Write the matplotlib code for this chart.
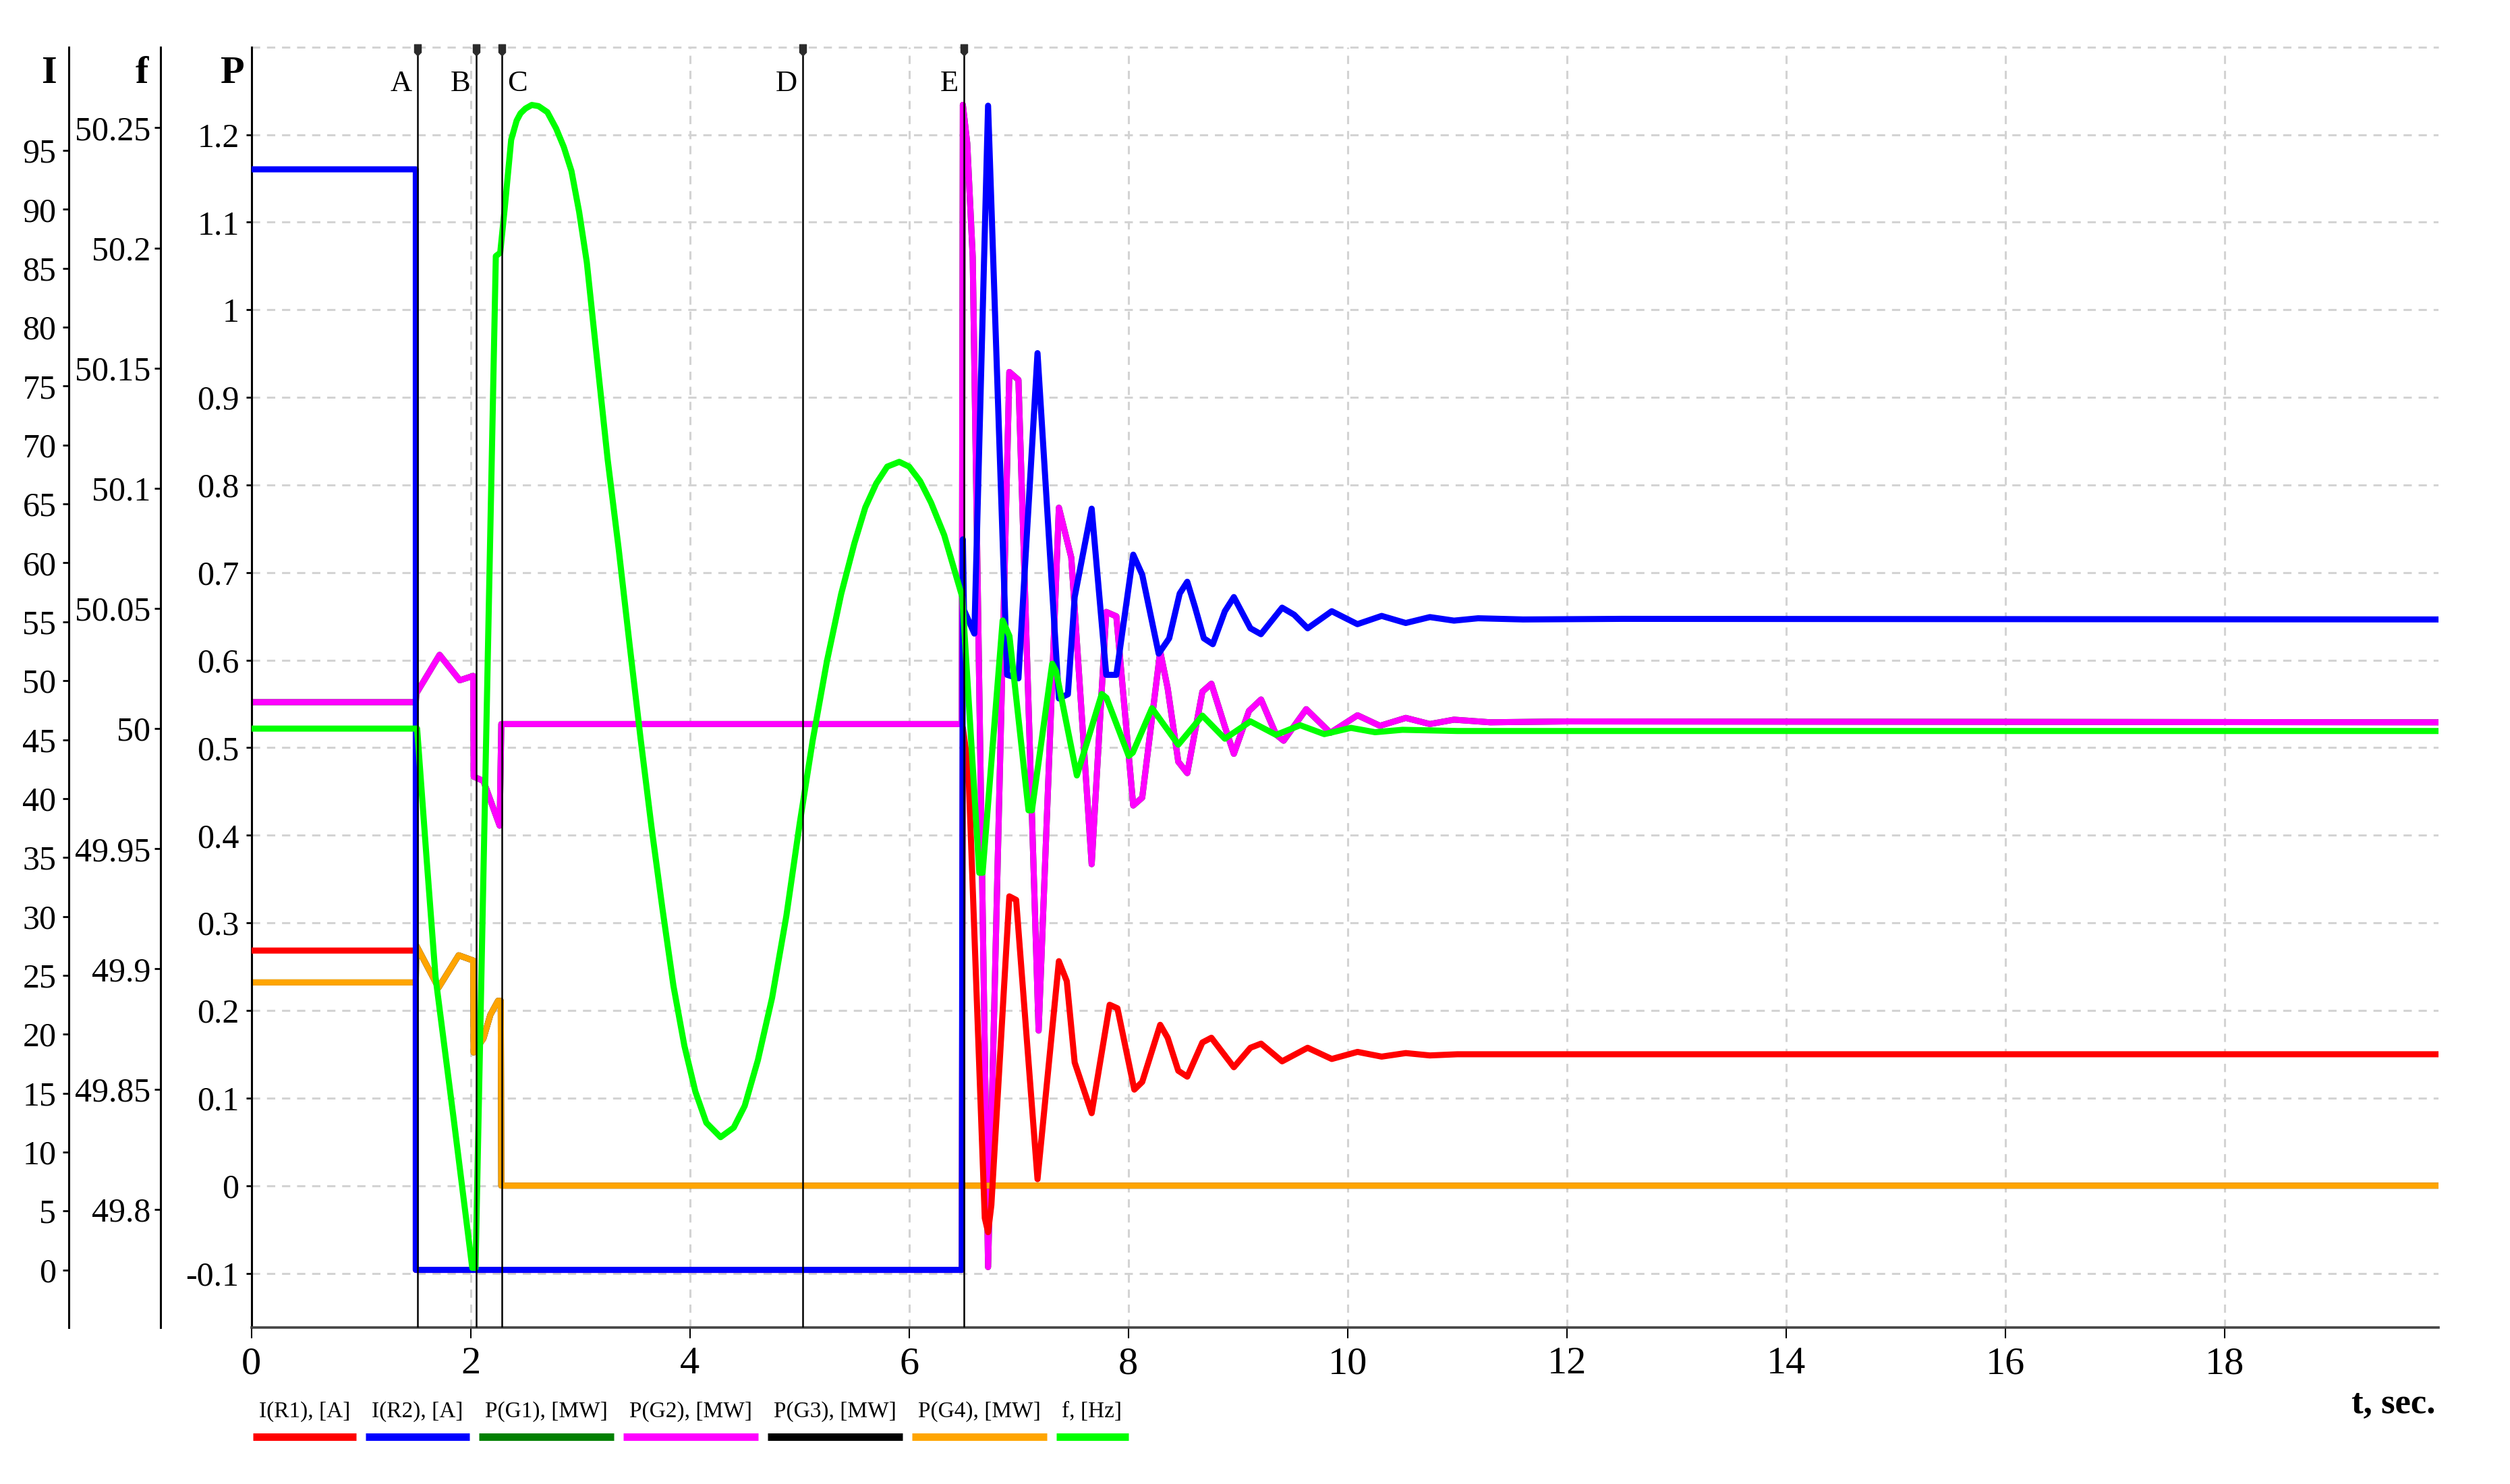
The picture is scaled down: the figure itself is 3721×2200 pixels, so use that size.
import matplotlib
matplotlib.use('Agg')
import matplotlib.pyplot as plt
import matplotlib.transforms as mtransforms
from matplotlib.path import Path
from matplotlib.lines import Line2D
from matplotlib.ticker import FixedLocator, FuncFormatter

plt.rcParams['font.family'] = ['Liberation Serif', 'DejaVu Serif']
plt.rcParams['axes.unicode_minus'] = False

# I(R1), A
t_r1 = [0, 1.5, 1.5, 6.48, 6.49, 6.54, 6.69, 6.72, 6.75, 6.914, 6.976, 7.171, 7.366, 7.438, 7.51,
        7.665, 7.829, 7.9, 8.054, 8.126, 8.29, 8.358, 8.455, 8.537, 8.675, 8.757, 8.88, 8.962,
        9.113, 9.21, 9.402, 9.635, 9.855, 10.09, 10.31, 10.53, 10.75, 11.0, 12.0, 19.95]
i_r1 = [27.1, 27.1, 0, 0, 46, 42.6, 4.4, 3.2, 5.5, 31.7, 31.4, 7.7, 26.2, 24.5, 17.6,
        13.3, 22.5, 22.2, 15.3, 15.95, 20.8, 19.7, 16.9, 16.4, 19.3, 19.7, 18.2, 17.2,
        18.85, 19.2, 17.7, 18.85, 17.9, 18.5, 18.1, 18.4, 18.2, 18.3, 18.3, 18.3]

# I(R2), A
t_r2 = [0, 1.5, 1.5, 6.48, 6.49, 6.50, 6.595, 6.72, 6.894, 6.997, 7.171, 7.366, 7.448, 7.51,
        7.665, 7.798, 7.89, 8.044, 8.126, 8.276, 8.372, 8.468, 8.537, 8.606, 8.688, 8.770,
        8.880, 8.962, 9.113, 9.209, 9.402, 9.512, 9.635, 9.855, 10.089, 10.31, 10.53, 10.75,
        10.97, 11.19, 11.6, 12.5, 19.95]
i_r2 = [93.4, 93.4, 0, 0, 62, 56, 54, 98.8, 50.5, 50.2, 77.8, 48.5, 48.85, 57.1,
        64.6, 50.5, 50.5, 60.7, 59.0, 52.3, 53.6, 57.4, 58.4, 56.3, 53.6, 53.1,
        55.9, 57.1, 54.45, 53.95, 56.2, 55.6, 54.45, 55.9, 54.8, 55.5, 54.9, 55.4,
        55.1, 55.3, 55.2, 55.25, 55.2]

# P(G1) and P(G2), MW (G1 lies under G2)
t_g2 = [0, 1.5, 1.505, 1.717, 1.901, 2.024, 2.028, 2.117, 2.265, 2.28, 6.48, 6.49, 6.53, 6.58,
        6.72, 6.914, 6.997, 7.181, 7.366, 7.479, 7.665, 7.798, 7.89, 8.044, 8.126, 8.29, 8.358,
        8.455, 8.537, 8.675, 8.757, 8.88, 8.962, 9.10, 9.21, 9.347, 9.416, 9.622, 9.842, 10.09,
        10.295, 10.53, 10.75, 10.97, 11.3, 12.0, 19.95]
p_g2 = [0.552, 0.552, 0.562, 0.606, 0.577, 0.582, 0.467, 0.462, 0.411, 0.527, 0.527, 1.234, 1.19, 1.06,
        -0.093, 0.929, 0.920, 0.177, 0.774, 0.717, 0.367, 0.655, 0.650, 0.434, 0.443, 0.610, 0.568,
        0.484, 0.471, 0.564, 0.573, 0.524, 0.493, 0.542, 0.555, 0.515, 0.508, 0.544, 0.517, 0.537,
        0.525, 0.534, 0.527, 0.532, 0.529, 0.530, 0.529]
p_g1 = list(p_g2)

# P(G3) and P(G4), MW (G3 lies under G4)
t_g4 = [0, 1.5, 1.505, 1.707, 1.891, 2.024, 2.028, 2.117, 2.18, 2.25, 2.275, 2.28, 19.95]
p_g4 = [0.232, 0.232, 0.274, 0.226, 0.263, 0.257, 0.152, 0.168, 0.195, 0.211, 0.211, 0.0, 0.0]
p_g3 = list(p_g4)

# f, Hz
t_f = [0, 1.512, 1.6, 1.68, 1.85, 2.015, 2.045, 2.23, 2.27, 2.31, 2.37, 2.42, 2.455, 2.5, 2.558,
       2.62, 2.7, 2.78, 2.85, 2.92, 2.99, 3.06, 3.15, 3.25, 3.35, 3.45, 3.55, 3.65, 3.75, 3.85,
       3.95, 4.05, 4.15, 4.28, 4.4, 4.5, 4.62, 4.75, 4.88, 5.0, 5.12, 5.25, 5.38, 5.5, 5.6, 5.7,
       5.8, 5.91, 6.0, 6.1, 6.2, 6.32, 6.485, 6.64, 6.67, 6.853, 6.915, 7.089, 7.12, 7.305, 7.34,
       7.53, 7.757, 7.80, 8.003, 8.04, 8.215, 8.455, 8.675, 8.88, 9.113, 9.347, 9.567, 9.787,
       10.03, 10.25, 10.5, 11.0, 12.0, 19.95]
f_hz = [50.0, 50.0, 49.945, 49.8966, 49.836, 49.7756, 49.7756, 50.1966, 50.198, 50.216, 50.245,
        50.253, 50.256, 50.258, 50.2595, 50.259, 50.2565, 50.2497, 50.242, 50.232, 50.215, 50.194,
        50.155, 50.112, 50.075, 50.035, 49.996, 49.959, 49.925, 49.893, 49.868, 49.849, 49.836,
        49.830, 49.834, 49.843, 49.862, 49.888, 49.922, 49.960, 49.995, 50.028, 50.056, 50.077,
        50.092, 50.102, 50.109, 50.111, 50.109, 50.103, 50.094, 50.0805, 50.0547, 49.940, 49.940,
        50.045, 50.0385, 49.966, 49.966, 50.027, 50.024, 49.9805, 50.0144, 50.0128, 49.9886,
        49.990, 50.0085, 49.9933, 50.0054, 49.9958, 50.003, 49.9974, 50.0014, 49.9977, 50.0003,
        49.9985, 49.9995, 49.999, 49.999, 49.999]

events = ['A', 'B', 'C', 'D', 'E']
event_t = [1.515, 2.05, 2.285, 5.03, 6.5]

x_ticks = [0, 2, 4, 6, 8, 10, 12, 14, 16, 18]
p_ticks = [-0.1, 0, 0.1, 0.2, 0.3, 0.4, 0.5, 0.6, 0.7, 0.8, 0.9, 1.0, 1.1, 1.2]
i_ticks = [0, 5, 10, 15, 20, 25, 30, 35, 40, 45, 50, 55, 60, 65, 70, 75, 80, 85, 90, 95]
f_ticks = [49.8, 49.85, 49.9, 49.95, 50.0, 50.05, 50.1, 50.15, 50.2, 50.25]

legend_labels = ['I(R1), [A]', 'I(R2), [A]', 'P(G1), [MW]', 'P(G2), [MW]',
                 'P(G3), [MW]', 'P(G4), [MW]', 'f, [Hz]']
colors = ['#ff0000', '#0000ff', '#008000', '#ff00ff', '#000000', '#ffa500', '#00ff00']

W, H = 3721, 2200
fig = plt.figure(figsize=(W / 100, H / 100), dpi=100)
ax = fig.add_axes([0.10014, 0.10545, 0.87137, 0.86287])
ax.set_xlim(0, 19.95)
ax.set_ylim(-0.162, 1.30)

ax_i = ax.twinx()
ax_i.set_ylim(-4.89, 103.78)
ax_f = ax.twinx()
ax_f.set_ylim(49.7508, 50.2836)

fmt = FuncFormatter(lambda v, _: '%g' % round(v, 3))

# main P axis
for s in ('top', 'right'):
    ax.spines[s].set_visible(False)
ax.spines['left'].set_linewidth(2.2)
ax.spines['bottom'].set_linewidth(2.6)
ax.spines['bottom'].set_color('#444444')
ax.xaxis.set_major_locator(FixedLocator(x_ticks))
ax.xaxis.set_major_formatter(fmt)
ax.yaxis.set_major_locator(FixedLocator(p_ticks))
ax.yaxis.set_major_formatter(fmt)
ax.tick_params(axis='x', direction='out', length=11.5, width=1.5, pad=9, labelsize=42)
ax.tick_params(axis='y', direction='out', length=6, width=2, pad=7, labelsize=36)
ax.set_axisbelow(True)
gstyle = dict(color='#d3d3d3', linewidth=2.2, linestyle=(0, (4, 3.3)))
ax.grid(True, **gstyle)
ax.axhline(1.3, clip_on=False, zorder=0.5, **gstyle)

# extra left axes for I and f
for a, pos, ticks, pad in ((ax_i, -0.0834, i_ticks, 7), (ax_f, -0.0416, f_ticks, 4)):
    for s in ('top', 'bottom', 'right'):
        a.spines[s].set_visible(False)
    a.spines['left'].set_visible(True)
    a.spines['left'].set_position(('axes', pos))
    a.spines['left'].set_linewidth(2.2)
    a.yaxis.set_ticks_position('left')
    a.yaxis.set_label_position('left')
    a.yaxis.set_major_locator(FixedLocator(ticks))
    a.yaxis.set_major_formatter(fmt)
    a.tick_params(axis='y', direction='out', length=6.5, width=2, pad=pad, labelsize=36)

lw = 6.5
ax.plot(t_g2, p_g1, color=colors[2], lw=lw)
ax.plot(t_g2, p_g2, color=colors[3], lw=lw)
ax.plot(t_g4, p_g3, color=colors[4], lw=lw)
ax.plot(t_g4, p_g4, color=colors[5], lw=lw)
ax_i.plot(t_r1, i_r1, color=colors[0], lw=lw)
ax_i.plot(t_r2, i_r2, color=colors[1], lw=lw)
ax_f.plot(t_f, f_hz, color=colors[6], lw=lw)

# event markers
pin = Path([(-0.3, 0.5), (0.3, 0.5), (0.3, -0.2), (0, -0.5), (-0.3, -0.2), (-0.3, 0.5)],
           [Path.MOVETO, Path.LINETO, Path.LINETO, Path.LINETO, Path.LINETO, Path.CLOSEPOLY])
trans = mtransforms.blended_transform_factory(ax_f.transData, ax_f.transAxes)
for name, te in zip(events, event_t):
    ax_f.axvline(te, color='black', lw=1.8, zorder=5)
    ax_f.plot([te], [0.9977], transform=trans, marker=pin, ms=12, color='#2b2b2b',
              clip_on=False, zorder=6)
    if name == 'C':
        ax_f.annotate(name, xy=(te, 0.9656), xycoords=trans, xytext=(6, 0),
                      textcoords='offset points', ha='left', va='baseline', fontsize=32)
    else:
        ax_f.annotate(name, xy=(te, 0.9656), xycoords=trans, xytext=(-6, 0),
                      textcoords='offset points', ha='right', va='baseline', fontsize=32)

# axis names
fig.text(85 / W, 1 - 123 / H, 'I', ha='right', va='baseline', fontsize=42, fontweight='bold')
fig.text(220 / W, 1 - 123 / H, 'f', ha='right', va='baseline', fontsize=42, fontweight='bold')
fig.text(363 / W, 1 - 123 / H, 'P', ha='right', va='baseline', fontsize=42, fontweight='bold')
fig.text(3610 / W, 1 - 2095 / H, 't, sec.', ha='right', va='baseline', fontsize=38,
         fontweight='bold')

# legend below the plot: label with a colour bar under it
renderer = fig.canvas.get_renderer()
x_px = 384
for lab, col in zip(legend_labels, colors):
    txt = fig.text(x_px / W, 1 - 2101 / H, lab, ha='left', va='baseline', fontsize=24)
    bb = txt.get_window_extent(renderer)
    x0, x1 = bb.x0 - 9, bb.x1 + 9
    fig.add_artist(Line2D([x0 / W, x1 / W], [1 - 2130 / H] * 2, transform=fig.transFigure,
                          color=col, lw=8, solid_capstyle='butt'))
    x_px = bb.x1 + 32

fig.savefig('out.png', dpi=100)
